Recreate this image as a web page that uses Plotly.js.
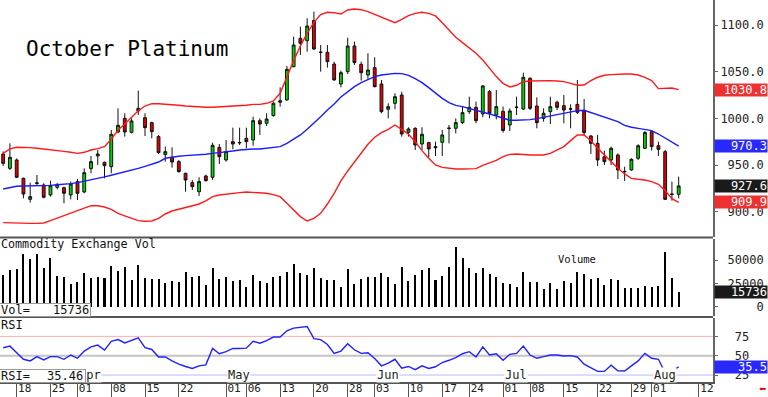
<!DOCTYPE html>
<html><head><meta charset="utf-8">
<script src="https://cdn.plot.ly/plotly-3.0.1.min.js"></script>
<style>html,body{margin:0;padding:0;background:#fff;}#chart{width:768px;height:397px;}</style>
</head><body><div id="chart"></div>
<script>
// trading-day index of the first bar (Mar 18 = 0)
const firstIndex = -2;
const openP = [961.8,946.4,955.4,935.7,913.2,930.2,928.6,917.9,926.1,925.7,917.9,932.2,921.1,946.1,959.7,952.9,948.2,985.4,1000.0,985.0,1007.9,1000.7,995.4,980.4,961.1,958.2,953.6,941.1,931.1,921.4,938.2,936.8,968.9,955.4,975.0,973.6,978.6,976.8,997.5,994.7,1002.9,1017.2,1019.7,1055.4,1085.7,1083.2,1104.7,1070.5,1070.7,1058.2,1036.8,1050.0,1077.5,1057.9,1046.4,1054.3,1036.8,1009.7,1016.1,1025.0,985.0,989.3,972.5,973.9,969.7,974.3,989.0,989.3,995.4,1007.2,1011.8,1004.7,1028.6,1003.6,1007.5,992.9,1011.6,1010.0,1042.9,1013.2,1000.0,1007.2,1017.2,1013.6,1009.8,1015.0,1008.2,981.1,973.2,958.9,955.4,960.7,942.7,944.7,957.2,967.9,985.7,970.7,964.3,918.4,918.6];
const highP = [964.5,973.2,957.0,936.5,931.1,939.3,930.4,933.2,930.4,926.8,932.2,935.0,946.4,959.7,966.1,953.6,987.5,1010.7,1005.4,1000.0,1029.7,1005.4,996.4,982.2,969.7,968.9,955.4,941.8,933.9,936.8,939.6,973.9,972.5,976.8,990.0,990.0,990.0,1001.8,1000.0,1005.4,1017.9,1033.2,1056.1,1087.5,1098.2,1107.2,1114.3,1078.6,1078.6,1060.7,1051.1,1086.4,1082.2,1060.7,1069.7,1065.4,1041.1,1016.1,1026.8,1028.6,990.4,990.4,990.4,975.0,975.0,987.5,992.9,1000.0,1013.2,1023.2,1017.9,1035.7,1030.4,1030.4,1012.5,1010.7,1023.2,1048.9,1043.9,1022.5,1010.7,1023.2,1018.9,1025.0,1015.0,1041.1,1020.7,982.2,982.2,965.4,969.7,962.5,948.2,957.2,972.2,986.4,986.8,975.0,966.1,932.2,937.5];
const lowP = [949.0,944.7,936.0,914.3,909.7,928.6,914.3,916.1,924.0,908.9,913.2,912.5,919.7,941.1,950.0,935.7,941.1,983.9,980.4,983.9,1003.6,981.1,978.6,961.8,953.6,947.2,941.8,921.4,923.2,916.8,932.2,933.9,951.1,953.6,966.8,971.4,967.9,970.7,982.2,991.8,1001.8,1012.5,1018.9,1054.7,1067.9,1071.4,1073.2,1050.0,1054.3,1040.4,1033.2,1047.5,1057.2,1040.4,1041.1,1033.2,1005.4,1000.0,1009.7,980.4,980.4,966.1,966.1,958.2,959.7,959.7,973.2,983.9,993.9,1004.7,994.7,1001.1,1000.0,998.9,984.7,986.4,1003.6,1008.9,1008.9,989.3,996.4,993.9,1008.9,994.7,989.3,1004.7,981.1,961.8,948.9,950.0,950.0,935.0,932.9,943.9,955.4,967.2,965.4,959.7,912.5,911.8,914.3];
const closeP = [951.8,958.2,936.8,918.9,916.1,930.8,915.4,927.9,929.3,919.7,929.7,919.7,941.8,953.6,961.8,949.3,982.9,992.5,985.4,997.2,1010.7,990.0,985.7,963.2,964.3,953.2,942.9,933.9,926.8,932.2,933.2,971.1,958.9,964.3,972.5,974.1,975.0,997.5,993.9,999.3,1016.1,1018.9,1052.5,1078.6,1080.4,1098.9,1074.3,1070.9,1060.7,1041.1,1048.9,1077.5,1059.7,1048.9,1051.8,1033.9,1007.2,1012.5,1023.2,983.2,988.6,971.4,982.9,967.2,968.6,982.2,989.5,995.4,1006.1,1011.8,997.5,1034.7,1005.4,1012.5,987.0,1007.9,1012.0,1043.9,1010.7,995.4,1005.4,1012.5,1011.8,1008.9,1010.2,1006.4,984.7,973.2,955.4,953.6,967.9,944.7,943.1,956.1,970.7,984.7,969.7,966.8,913.2,918.8,927.6];
const bbUpper = [962.5,967.2,969.0,969.0,968.6,967.9,967.2,966.4,965.7,964.6,963.6,962.5,963.6,966.1,967.5,969.7,977.5,987.5,994.0,1001.1,1008.2,1013.2,1015.7,1015.7,1015.4,1014.7,1014.0,1013.2,1012.5,1012.2,1011.8,1011.8,1012.2,1012.5,1012.9,1013.2,1014.0,1015.0,1015.0,1016.1,1018.6,1026.8,1044.7,1061.8,1077.5,1091.1,1102.9,1111.1,1113.6,1113.2,1111.8,1116.1,1117.2,1116.4,1114.3,1111.4,1109.0,1105.4,1102.5,1106.1,1110.0,1112.5,1113.6,1112.5,1109.7,1102.5,1094.7,1086.8,1081.1,1075.7,1069.7,1062.5,1053.6,1044.7,1037.5,1033.6,1035.4,1039.3,1040.0,1040.4,1040.4,1040.4,1040.0,1039.3,1037.5,1035.4,1035.7,1040.4,1044.0,1046.1,1046.8,1047.5,1047.5,1047.5,1046.4,1043.9,1040.4,1031.8,1032.2,1032.5,1030.8];
const bbMid = [924.3,926.1,927.2,927.5,927.5,927.5,927.5,928.2,928.9,929.3,930.0,931.1,932.5,933.9,935.7,937.2,939.0,940.7,942.5,944.7,946.4,948.6,950.7,953.2,957.2,958.6,959.3,960.0,960.4,960.7,961.5,962.5,963.2,964.0,965.0,966.1,966.8,967.2,967.2,967.9,968.6,969.7,973.2,977.5,982.2,988.2,994.7,1001.8,1009.0,1015.4,1022.9,1028.9,1034.0,1038.2,1041.8,1044.7,1046.4,1047.5,1048.2,1047.9,1046.1,1042.5,1038.2,1032.9,1026.8,1021.4,1016.8,1013.9,1012.5,1010.7,1008.9,1007.2,1004.7,1002.5,1000.0,997.9,997.9,998.2,998.6,999.7,1001.1,1002.9,1004.3,1005.7,1007.2,1008.2,1008.6,1006.1,1003.6,1001.5,998.9,996.4,992.5,990.4,989.3,988.2,986.8,983.2,978.6,974.3,970.3];
const bbLower = [888.2,887.9,887.5,887.5,887.5,887.5,887.9,890.4,893.2,895.7,898.2,901.1,903.9,906.4,906.4,905.0,902.5,898.2,895.4,892.9,890.4,889.7,890.0,892.9,897.5,900.7,902.5,904.7,906.4,908.2,911.5,916.1,917.9,919.0,919.7,920.4,921.1,920.7,920.0,919.7,918.2,916.1,909.0,901.8,894.7,890.0,892.9,898.2,908.2,919.7,932.9,943.6,952.9,961.8,972.2,979.7,984.7,988.2,992.9,988.2,982.9,975.0,965.4,957.2,950.0,947.5,946.5,945.7,945.7,945.7,946.1,949.7,952.2,955.0,959.0,961.4,961.8,961.1,960.7,960.7,960.7,962.5,966.1,969.7,976.1,982.2,982.2,976.1,967.9,960.7,953.6,946.5,940.4,935.7,934.7,933.9,932.2,929.3,922.5,914.0,909.9];
const volume = [33930,39280,40350,56420,51070,56420,41780,52490,33210,31780,24280,26780,35710,31070,31780,31070,43570,38210,42140,28570,44640,31070,29640,29640,25000,27850,26780,37500,32140,32500,23210,41070,29640,31780,27500,28210,21070,33930,27500,25350,31780,33210,36780,45350,35710,33930,41070,30350,28570,28570,21070,40000,24640,29640,31780,31780,35710,32140,23930,42140,27500,33930,39280,41780,28570,33210,42850,64280,51780,41070,35710,41780,35000,32140,25710,23930,20710,37500,26780,26780,18930,25000,18930,27500,25000,36780,34640,29640,30350,23210,29280,28210,20350,20350,20350,22140,21430,22500,58920,30350,15736];
const rsi = [60.3,62.4,53.9,45.4,43.3,48.8,44.6,48.8,48.8,45.4,50.9,46.7,56.0,61.5,63.7,57.3,68.7,70.9,66.6,69.6,73.0,60.3,58.1,48.4,48.4,43.3,39.1,36.1,33.5,36.9,38.2,59.4,52.6,55.2,59.4,59.4,59.8,68.7,66.2,69.6,74.2,74.2,82.3,85.7,86.5,87.8,72.1,70.9,64.5,53.0,56.0,65.4,57.7,53.0,53.9,46.3,36.9,40.3,45.4,34.0,36.1,31.9,36.9,33.5,35.7,41.2,44.1,47.5,52.6,55.2,48.4,61.5,50.9,52.6,44.1,51.8,53.0,62.4,50.9,46.7,48.8,50.9,50.9,49.7,50.1,48.4,39.1,34.8,29.7,29.7,37.8,30.6,30.2,36.9,43.3,53.0,46.7,45.4,28.0,30.5,35.46];
const tickPos = [0,5,9,14,19,24,31,34,39,44,49,53,58,63,67,72,76,81,86,91,94,101];
const tickText = ['18','25','01','08','15','22','01','06','13','20','28','03','10','17','24','01','08','15','22','29','01','12'];
const monthPos = [9,31,53,72,94];
const monthText = ['Apr','May','Jun','Jul','Aug'];
const priceTicks = [900,950,1000,1050,1100];
const volTicks = [0,25000,50000];
const rsiTicks = [25,50,75];
const rsiLevels = [75,50,25];

const W = 768, H = 397;
const px = v => v / W, py = v => 1 - v / H;
const MONO = 'DejaVu Sans Mono';
const NB = '\u00a0';
const pad = (s, n) => NB.repeat(Math.max(0, n - s.length)) + s;
const x = closeP.map((_, i) => i + firstIndex);
const last = a => a[a.length - 1];

const traces = [
  {type:'scatter', mode:'lines', x, y:bbUpper, xaxis:'x', yaxis:'y', line:{color:'#ff1a1a', width:1.4}, hoverinfo:'skip'},
  {type:'scatter', mode:'lines', x, y:bbLower, xaxis:'x', yaxis:'y', line:{color:'#ff1a1a', width:1.4}, hoverinfo:'skip'},
  {type:'scatter', mode:'lines', x, y:bbMid, xaxis:'x', yaxis:'y', line:{color:'#1a1aff', width:1.4}, hoverinfo:'skip'},
  {type:'candlestick', x, open:openP, high:highP, low:lowP, close:closeP, xaxis:'x', yaxis:'y',
   increasing:{line:{color:'#111', width:1}, fillcolor:'#00d400'},
   decreasing:{line:{color:'#111', width:1}, fillcolor:'#e00000'}, whiskerwidth:0},
  {type:'bar', x, y:volume, xaxis:'x', yaxis:'y2', width:0.3, marker:{color:'#000', line:{width:0}}},
  {type:'scatter', mode:'lines', x, y:rsi, xaxis:'x', yaxis:'y3', line:{color:'#2020ff', width:1.4}}
];

const yCommon = {side:'right', anchor:'x', showgrid:false, zeroline:false, showline:true, linecolor:'#666', linewidth:2,
  ticks:'outside', ticklen:3, tickcolor:'#666', tickfont:{family:MONO, size:12, color:'#222'}, fixedrange:true};

const shapes = [];
rsiLevels.forEach((lv, k) => shapes.push({type:'line', xref:'paper', x0:0, x1:px(713), yref:'y3', y0:lv, y1:lv,
  line:{color:['#ffb0b0','#c4c4c4','#b8b8ff'][k], width:[1,2,1][k]}, layer:'below'}));
[237.5, 317].forEach(yy => shapes.push({type:'line', xref:'paper', yref:'paper', x0:0, x1:px(713), y0:py(yy), y1:py(yy), line:{color:'#555', width:2}}));

const ann = [];
monthText.forEach((m, i) => ann.push({xref:'x', yref:'y3', x:monthPos[i], y:25, xanchor:'left', yanchor:'middle', xshift:1,
  text:m, showarrow:false, bgcolor:'#fff', borderpad:0, font:{family:MONO, size:12, color:'#222'}}));
// left info boxes (drawn as annotations so they cover the month labels)
const box = (x0, x1, y0, y1) => ({xref:'paper', yref:'paper', x:px(x0), y:py(y1), xanchor:'left', yanchor:'bottom',
  text:NB, showarrow:false, width:x1 - x0 - 2, height:y1 - y0 - 2, borderpad:0, borderwidth:1, bordercolor:'#999', bgcolor:'#fff', font:{size:8}});
ann.push(box(-2, 91, 303, 317));
ann.push(box(-2, 86, 369.5, 383));
const txt = (t, xp, yp, xa, size, color) => ({xref:'paper', yref:'paper', x:px(xp), y:py(yp), xanchor:xa, yanchor:'middle', text:t, showarrow:false, borderpad:0, font:{family:MONO, size:size, color:color||'#111'}});
ann.push(txt('Vol=', 0, 309.5, 'left', 12));
ann.push(txt(String(last(volume)), 89.5, 309.5, 'right', 12));
ann.push(txt('RSI=', 0, 376, 'left', 12));
ann.push(txt(last(rsi).toFixed(2), 84, 376, 'right', 12));
ann.push(txt('Commodity Exchange Vol', 0, 244, 'left', 11.7));
ann.push(txt('Volume', 557, 259, 'left', 10.5));
ann.push(txt('RSI', 0, 325, 'left', 12));
ann.push(txt('\u2b05', 767, 389, 'right', 12, '#e00000'));
// right value boxes
const vbox = (val, t, yref, bg) => ({xref:'paper', x:1, xanchor:'right', yref, y:val, yanchor:'middle', text:t, showarrow:false,
  bgcolor:bg, width:52, height:12, align:'right', borderpad:0, font:{family:MONO, size:12, color:'#fff'}});
ann.push(vbox(last(bbUpper), last(bbUpper).toFixed(1), 'y', '#f03030'));
ann.push(vbox(last(bbMid), last(bbMid).toFixed(1), 'y', '#2828ff'));
ann.push(vbox(last(closeP), last(closeP).toFixed(1), 'y', '#1a1a1a'));
ann.push(vbox(last(bbLower), last(bbLower).toFixed(1), 'y', '#f03030'));
ann.push(vbox(last(volume), String(last(volume)), 'y2', '#1a1a1a'));
ann.push(vbox(last(rsi), last(rsi).toFixed(1), 'y3', '#2828ff'));

const layout = {
  width:W, height:H, margin:{l:0, r:0, t:0, b:0}, paper_bgcolor:'#fff', plot_bgcolor:'#fff',
  showlegend:false, boxgap:0.4, bargap:0, hovermode:false,
  font:{family:MONO, size:12, color:'#111'},
  title:{text:'October Platinum', x:px(26), xanchor:'left', y:py(48.6), yanchor:'middle', font:{family:MONO, size:21, color:'#000'}},
  xaxis:{domain:[0, px(713)], range:[-2.47, 103.08], anchor:'y3', tickmode:'array', tickvals:tickPos, ticktext:tickText,
    ticks:'outside', ticklen:15, tickcolor:'#555', tickwidth:1, showline:true, linecolor:'#555', linewidth:2,
    showgrid:false, zeroline:false, tickfont:{family:MONO, size:11, color:'#222'}, ticklabelshift:8, ticklabelstandoff:-20,
    rangeslider:{visible:false}, fixedrange:true},
  yaxis:Object.assign({}, yCommon, {domain:[py(237), 1], range:[872.85, 1126.79], tickmode:'array', tickvals:priceTicks,
    ticktext:priceTicks.map(v => pad(v.toFixed(1), 6))}),
  yaxis2:Object.assign({}, yCommon, {domain:[py(316), py(239)], range:[-9960, 72530], tickmode:'array', tickvals:volTicks,
    ticktext:volTicks.map(v => pad(String(v), 6))}),
  yaxis3:Object.assign({}, yCommon, {domain:[py(382), py(318)], range:[16.0, 98.8], tickmode:'array', tickvals:rsiTicks,
    ticktext:rsiTicks.map(v => pad(String(v), 4))}),
  shapes, annotations:ann
};
Plotly.newPlot('chart', traces, layout, {staticPlot:true, displayModeBar:false});
</script></body></html>
